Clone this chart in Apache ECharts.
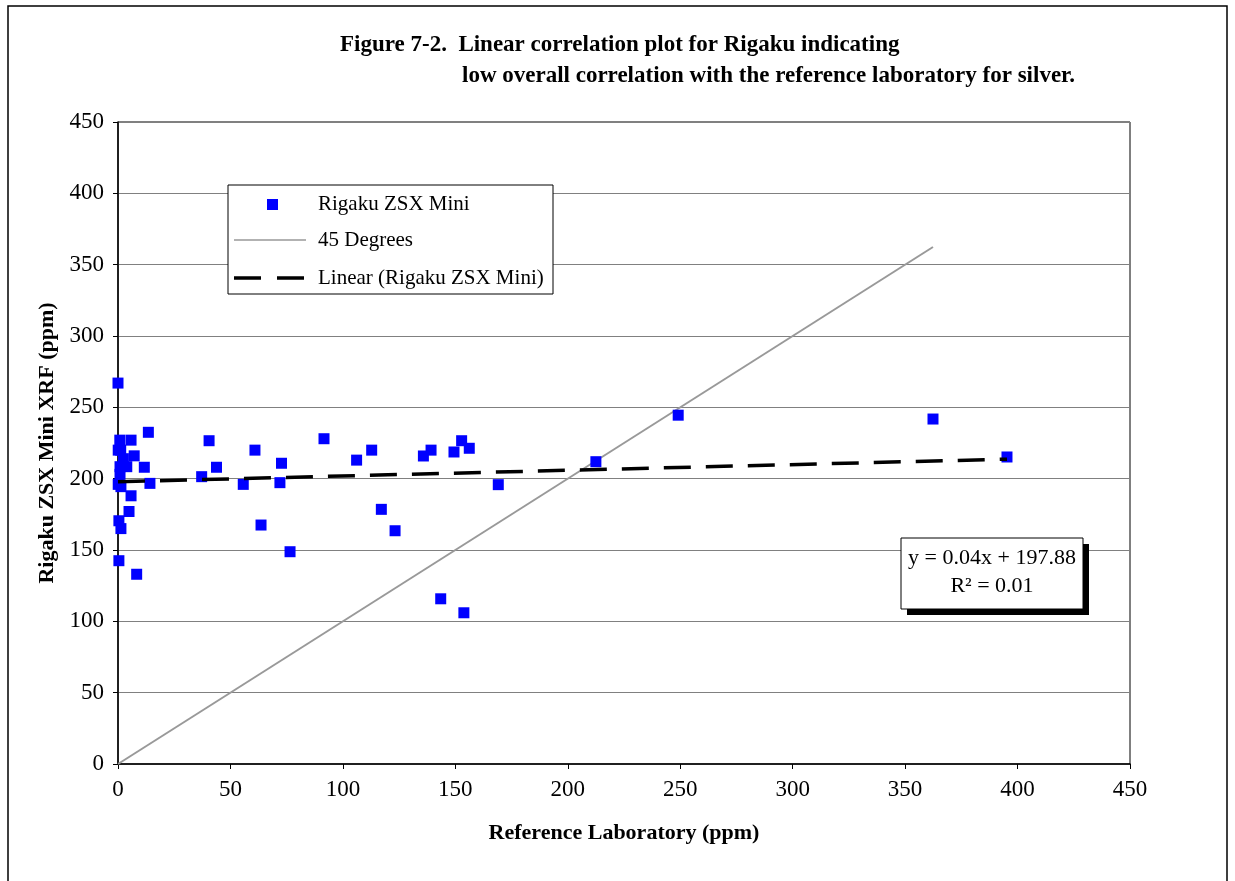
<!DOCTYPE html>
<html>
<head>
<meta charset="utf-8">
<script src="https://cdn.jsdelivr.net/npm/echarts@6/dist/echarts.min.js"></script>
<style>
html,body{margin:0;padding:0;background:#fff;}
#chart{width:1235px;height:881px;}
</style>
</head>
<body>
<div id="chart"></div>
<script>
// ---- data ----
const refLab = [0, 0.8, 5.8, 13.5, 0.1, 1.2, 2.4, 7.2, 0.9, 3.9, 11.7, 0.9, 0.1, 14.2, 1.3, 5.8, 4.9, 0.4, 1.3, 0.4, 8.3,
  40.5, 43.8, 37.2, 60.9, 55.7, 63.6, 72.7, 72, 76.5, 91.6, 106.1, 112.8, 117.1, 123.2, 135.8, 139.2, 149.4, 152.8, 156.2,
  169.1, 143.5, 153.8, 212.5, 249.1, 362.4, 395.3];
const rigaku = [267, 227, 227, 232.5, 220, 220, 214, 216, 208.4, 208.4, 208, 203, 196, 196.7, 194.4, 188, 177, 170.5, 165, 142.5, 133,
  226.6, 208, 201.4, 220, 196, 167.5, 210.8, 197.2, 148.8, 228, 213, 220, 178.5, 163.5, 215.9, 220, 218.7, 226.6, 221.3,
  195.8, 115.8, 106, 211.9, 244.5, 241.8, 215.2];
const line45X = [0, 362.4];
const line45Y = [0, 362.4];
const trendX = [0, 395.3];
const trendY = [197.88, 213.69];
const axisTicks = [0, 50, 100, 150, 200, 250, 300, 350, 400, 450];
const titleLines = ['Figure 7-2.  Linear correlation plot for Rigaku indicating',
  'low overall correlation with the reference laboratory for silver.'];
const seriesNames = ['Rigaku ZSX Mini', '45 Degrees', 'Linear (Rigaku ZSX Mini)'];
const equationLines = ['y = 0.04x + 197.88', 'R² = 0.01'];
const xName = 'Reference Laboratory (ppm)';
const yName = 'Rigaku ZSX Mini XRF (ppm)';

const FONT = '"Liberation Serif", "Times New Roman", serif';
const scatterData = refLab.map((x, i) => [x, rigaku[i]]);
const line45 = line45X.map((x, i) => [x, line45Y[i]]);
const trend = trendX.map((x, i) => [x, trendY[i]]);

const chart = echarts.init(document.getElementById('chart'), null, {renderer: 'canvas'});

const axisCommon = {
  type: 'value',
  min: axisTicks[0],
  max: axisTicks[axisTicks.length - 1],
  interval: axisTicks[1] - axisTicks[0],
  axisLine: {show: true, lineStyle: {color: '#000', width: 1.5}},
  axisTick: {show: true, length: 5, lineStyle: {color: '#000', width: 1}},
  axisLabel: {color: '#000', fontFamily: FONT, fontSize: 23},
  nameLocation: 'middle',
  nameTextStyle: {color: '#000', fontFamily: FONT, fontSize: 22, fontWeight: 'bold'}
};

chart.setOption({
  animation: false,
  backgroundColor: '#fff',
  grid: {left: 118, right: 105, top: 122, bottom: 117, show: true, borderColor: '#000', borderWidth: 1, backgroundColor: 'transparent'},
  xAxis: Object.assign({}, axisCommon, {
    name: xName, nameGap: 58,
    splitLine: {show: false},
    axisLabel: Object.assign({}, axisCommon.axisLabel, {margin: 14})
  }),
  yAxis: Object.assign({}, axisCommon, {
    name: yName, nameGap: 60,
    splitLine: {show: true, lineStyle: {color: '#808080', width: 1}},
    axisLabel: Object.assign({}, axisCommon.axisLabel, {margin: 14})
  }),
  series: [
    {
      name: seriesNames[1], type: 'line', data: line45, showSymbol: false, symbol: 'none',
      lineStyle: {color: '#999999', width: 2}, z: 2, silent: true
    },
    {
      name: seriesNames[0], type: 'scatter', data: scatterData, symbol: 'rect', symbolSize: 11,
      itemStyle: {color: '#0000ff', opacity: 1}, z: 3
    },
    {
      name: seriesNames[2], type: 'line', data: trend, showSymbol: false, symbol: 'none',
      lineStyle: {color: '#000', width: 3.5, type: [27, 15]}, z: 4, silent: true
    }
  ],
  graphic: [
    // outer figure frame
    {type: 'rect', shape: {x: 8, y: 6, width: 1219, height: 900}, style: {fill: 'none', stroke: '#000', lineWidth: 1.5}, z: 0, silent: true},
    // title
    {type: 'text', x: 340, y: 45, style: {text: titleLines[0], font: 'bold 23px ' + FONT, fill: '#000', verticalAlign: 'middle'}},
    {type: 'text', x: 462, y: 76, style: {text: titleLines[1], font: 'bold 23px ' + FONT, fill: '#000', verticalAlign: 'middle'}},
    // legend
    {type: 'rect', shape: {x: 228, y: 185, width: 325, height: 109}, style: {fill: '#fff', stroke: '#000', lineWidth: 1}, z: 10},
    {type: 'rect', shape: {x: 267, y: 199, width: 11, height: 11}, style: {fill: '#0000ff'}, z: 11},
    {type: 'line', shape: {x1: 234, y1: 240, x2: 306, y2: 240}, style: {stroke: '#999999', lineWidth: 1.5}, z: 11},
    {type: 'line', shape: {x1: 234, y1: 278, x2: 306, y2: 278}, style: {stroke: '#000', lineWidth: 3.5, lineDash: [27, 16]}, z: 11},
    {type: 'text', x: 318, y: 204, style: {text: seriesNames[0], font: '21px ' + FONT, fill: '#000', verticalAlign: 'middle'}, z: 11},
    {type: 'text', x: 318, y: 240, style: {text: seriesNames[1], font: '21px ' + FONT, fill: '#000', verticalAlign: 'middle'}, z: 11},
    {type: 'text', x: 318, y: 278, style: {text: seriesNames[2], font: '21px ' + FONT, fill: '#000', verticalAlign: 'middle'}, z: 11},
    // equation box
    {type: 'rect', shape: {x: 907, y: 544, width: 182, height: 71}, style: {fill: '#000'}, z: 10},
    {type: 'rect', shape: {x: 901, y: 538, width: 182, height: 71}, style: {fill: '#fff', stroke: '#000', lineWidth: 1}, z: 11},
    {type: 'text', x: 992, y: 558, style: {text: equationLines[0], font: '22px ' + FONT, fill: '#000', align: 'center', verticalAlign: 'middle'}, z: 12},
    {type: 'text', x: 992, y: 586, style: {text: equationLines[1], font: '22px ' + FONT, fill: '#000', align: 'center', verticalAlign: 'middle'}, z: 12}
  ]
});
</script>
</body>
</html>
